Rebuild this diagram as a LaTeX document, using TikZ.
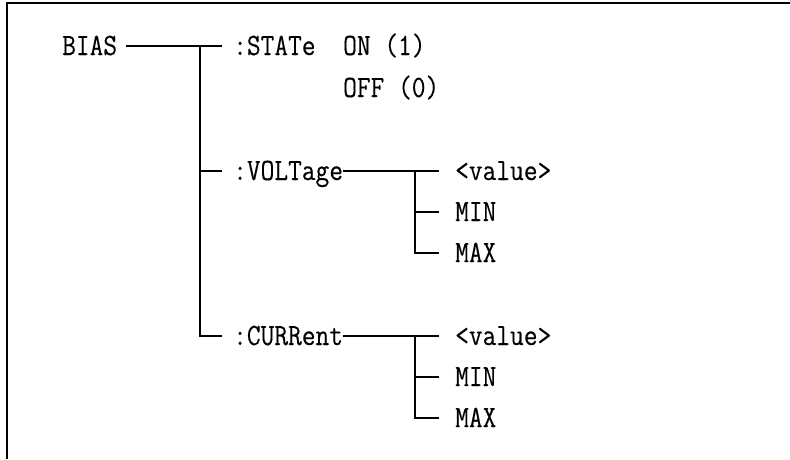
\documentclass[tikz,border=0pt]{standalone}
\usepackage{fontspec}
\setmonofont[FakeStretch=0.86,FakeBold=0.25]{Latin Modern Mono}
\usetikzlibrary{calc}
\definecolor{TreeClr}{rgb}{0,0,0}

\begin{document}
\begin{tikzpicture}[x=1pt,y=-1pt,
  cmd/.style={anchor=west,inner sep=0pt,text height=18pt,text depth=0pt,
    font=\fontsize{31}{35}\selectfont\ttfamily},
  branch/.style={line width=1.6pt,color=TreeClr}]
\useasboundingbox (0,0) rectangle (790,459);
\draw[line width=1.8pt,color=TreeClr] (790,3) -- (7,3) -- (7,459);

\coordinate (t1) at (200,0);
\coordinate (t2) at (415,0);

\node[cmd] (bias) at (62,46) {BIAS};
\node[cmd] (state) at (233,46) {:STATe};
\node[cmd] (on) at (343,46) {ON (1)};
\node[cmd] (off) at (343,88) {OFF (0)};
\node[cmd] (volt) at (233,171) {:VOLTage};
\node[cmd] (curr) at (233,336) {:CURRent};

\node[cmd] (val1) at (455,171) {<value>};
\node[cmd] (min1) at (455,212) {MIN};
\node[cmd] (max1) at (455,253) {MAX};
\node[cmd] (val2) at (455,336) {<value>};
\node[cmd] (min2) at (455,377) {MIN};
\node[cmd] (max2) at (455,418) {MAX};

\draw[branch] ([xshift=9]bias.east) -- ([xshift=-11]state.west);
\draw[branch] (bias.east -| t1) |- ([xshift=-11]curr.west);
\draw[branch] (volt.west -| t1) -- ([xshift=-11]volt.west);

\draw[branch] (volt.east) -- ([xshift=-16]val1.west);
\draw[branch] (volt.east -| t2) |- ([xshift=-16]max1.west);
\draw[branch] (min1.west -| t2) -- ([xshift=-16]min1.west);

\draw[branch] (curr.east) -- ([xshift=-16]val2.west);
\draw[branch] (curr.east -| t2) |- ([xshift=-16]max2.west);
\draw[branch] (min2.west -| t2) -- ([xshift=-16]min2.west);

\end{tikzpicture}
\end{document}
